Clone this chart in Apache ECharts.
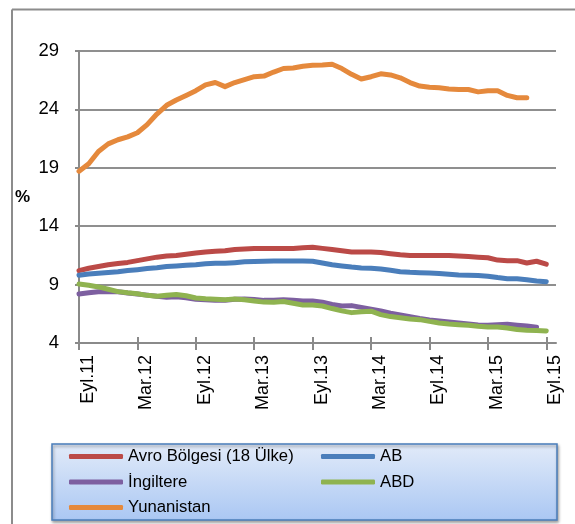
<!DOCTYPE html>
<html>
<head>
<meta charset="utf-8">
<script src="https://cdn.jsdelivr.net/npm/echarts@6/dist/echarts.min.js"></script>
<style>
html,body{margin:0;padding:0;background:#fff;}
#c{width:575px;height:524px;}
</style>
</head>
<body>
<div id="c"></div>
<script>
const categories = ['Eyl.11','Eki.11','Kas.11','Ara.11','Oca.12','Şub.12','Mar.12','Nis.12','May.12','Haz.12','Tem.12','Ağu.12','Eyl.12','Eki.12','Kas.12','Ara.12','Oca.13','Şub.13','Mar.13','Nis.13','May.13','Haz.13','Tem.13','Ağu.13','Eyl.13','Eki.13','Kas.13','Ara.13','Oca.14','Şub.14','Mar.14','Nis.14','May.14','Haz.14','Tem.14','Ağu.14','Eyl.14','Eki.14','Kas.14','Ara.14','Oca.15','Şub.15','Mar.15','Nis.15','May.15','Haz.15','Tem.15','Ağu.15','Eyl.15','Eki.15'];

const avroBolgesi = [10.2,10.4,10.55,10.7,10.8,10.9,11.05,11.2,11.35,11.45,11.5,11.6,11.7,11.8,11.85,11.9,12.0,12.05,12.1,12.1,12.1,12.1,12.1,12.15,12.2,12.1,12.0,11.9,11.8,11.8,11.8,11.75,11.65,11.55,11.5,11.5,11.5,11.5,11.5,11.45,11.4,11.35,11.3,11.1,11.05,11.05,10.85,11.0,10.75];
const ab = [9.8,9.9,9.97,10.03,10.1,10.2,10.28,10.37,10.45,10.55,10.6,10.65,10.7,10.78,10.82,10.82,10.88,10.95,10.98,11.0,11.02,11.02,11.02,11.02,11.0,10.85,10.7,10.6,10.5,10.42,10.4,10.33,10.22,10.1,10.05,10.02,10.0,9.95,9.88,9.82,9.8,9.77,9.72,9.6,9.5,9.5,9.42,9.3,9.25];
const ingiltere = [8.2,8.3,8.38,8.4,8.38,8.28,8.2,8.1,8.0,7.92,7.95,7.88,7.75,7.7,7.65,7.65,7.75,7.77,7.72,7.65,7.65,7.7,7.65,7.6,7.6,7.5,7.3,7.17,7.2,7.05,6.9,6.75,6.55,6.4,6.25,6.1,5.97,5.88,5.8,5.72,5.63,5.55,5.52,5.57,5.6,5.52,5.45,5.35];
const abd = [9.05,8.95,8.8,8.6,8.4,8.3,8.22,8.08,8.0,8.08,8.15,8.05,7.85,7.78,7.75,7.7,7.77,7.7,7.6,7.5,7.48,7.55,7.4,7.25,7.25,7.17,6.95,6.75,6.6,6.68,6.72,6.43,6.26,6.17,6.05,6.0,5.85,5.72,5.63,5.57,5.52,5.43,5.37,5.37,5.28,5.15,5.1,5.08,5.03];
const yunanistan = [18.7,19.35,20.4,21.05,21.4,21.65,22.0,22.7,23.6,24.35,24.8,25.2,25.6,26.1,26.3,25.95,26.3,26.55,26.8,26.85,27.2,27.5,27.55,27.7,27.78,27.8,27.86,27.5,27.0,26.6,26.8,27.05,26.95,26.7,26.3,26.0,25.9,25.85,25.75,25.7,25.7,25.5,25.6,25.6,25.2,25.0,25.0];

const seriesNames = ['Avro Bölgesi (18 Ülke)','AB','İngiltere','ABD','Yunanistan'];
const seriesData = [avroBolgesi, ab, ingiltere, abd, yunanistan];
const seriesColors = ['#BB4A47','#4A7EBB','#7D5FA0','#8FB350','#E5893C'];

const FONT = 'Liberation Sans';
const chart = echarts.init(document.getElementById('c'), null, {renderer:'canvas'});

const legendBase = {
  orient: 'vertical',
  top: 448,
  padding: 0,
  itemWidth: 54,
  itemHeight: 5,
  itemGap: 8.5,
  icon: 'roundRect',
  textStyle: {fontFamily: FONT, fontSize: 16.7, color: '#000', lineHeight: 17},
  selectedMode: false
};

chart.setOption({
  animation: false,
  backgroundColor: '#fff',
  grid: {left: 79, right: 19, top: 51, bottom: 181, containLabel: false},
  xAxis: [{
    type: 'category',
    data: categories,
    boundaryGap: false,
    axisLine: {show: true, lineStyle: {color: '#8a8a8a', width: 2}},
    axisTick: {show: true, interval: 5, length: 7, inside: false, lineStyle: {color: '#8a8a8a', width: 2}},
    axisLabel: {interval: 5, rotate: 90, margin: 12, verticalAlign: 'top', fontFamily: FONT, fontSize: 18, color: '#000'},
    splitLine: {show: false}
  },{
    type: 'category',
    data: categories,
    boundaryGap: false,
    position: 'bottom',
    axisLine: {show: false},
    axisTick: {show: true, interval: 5, length: 6, inside: true, lineStyle: {color: '#8a8a8a', width: 2}},
    axisLabel: {show: false},
    splitLine: {show: false}
  }],
  yAxis: {
    type: 'value',
    min: 4, max: 29, interval: 5,
    name: '%',
    nameLocation: 'middle',
    nameRotate: 0,
    nameGap: 49,
    nameTextStyle: {fontFamily: FONT, fontSize: 17, fontWeight: 'bold', color: '#000', padding: [0,0,-8,0]},
    axisLine: {show: true, lineStyle: {color: '#8a8a8a', width: 2}},
    axisTick: {show: true, length: 4, lineStyle: {color: '#8a8a8a', width: 2}},
    axisLabel: {margin: 20, fontFamily: FONT, fontSize: 18.5, color: '#000'},
    splitLine: {show: true, lineStyle: {color: '#8f8f8f', width: 2}}
  },
  legend: [
    Object.assign({}, legendBase, {left: 69, data: [seriesNames[0], seriesNames[2], seriesNames[4]]}),
    Object.assign({}, legendBase, {left: 321, data: [seriesNames[1], seriesNames[3]]})
  ],
  graphic: [
    {type: 'line', shape: {x1: 12, y1: 9.5, x2: 575, y2: 9.5}, style: {stroke: '#8c8c8c', lineWidth: 2}, silent: true},
    {type: 'line', shape: {x1: 12, y1: 9.5, x2: 12, y2: 524}, style: {stroke: '#8c8c8c', lineWidth: 2}, silent: true},
    {type: 'rect', z: 1, shape: {x: 52, y: 444, width: 505, height: 76},
      style: {
        fill: new echarts.graphic.LinearGradient(0,0,0,1,[{offset:0,color:'#e2ebf9'},{offset:1,color:'#aac7f3'}]),
        stroke: '#4a7ebb', lineWidth: 1.5,
        shadowBlur: 3, shadowColor: 'rgba(0,0,0,0.35)', shadowOffsetX: 1, shadowOffsetY: 2
      }, silent: true}
  ],
  series: seriesNames.map((n, i) => ({
    name: n,
    type: 'line',
    data: seriesData[i],
    showSymbol: false,
    symbol: 'none',
    smooth: false,
    color: seriesColors[i],
    lineStyle: {width: 5, color: seriesColors[i], cap: 'round', join: 'round'},
    z: 3 + i
  }))
});
</script>
</body>
</html>
